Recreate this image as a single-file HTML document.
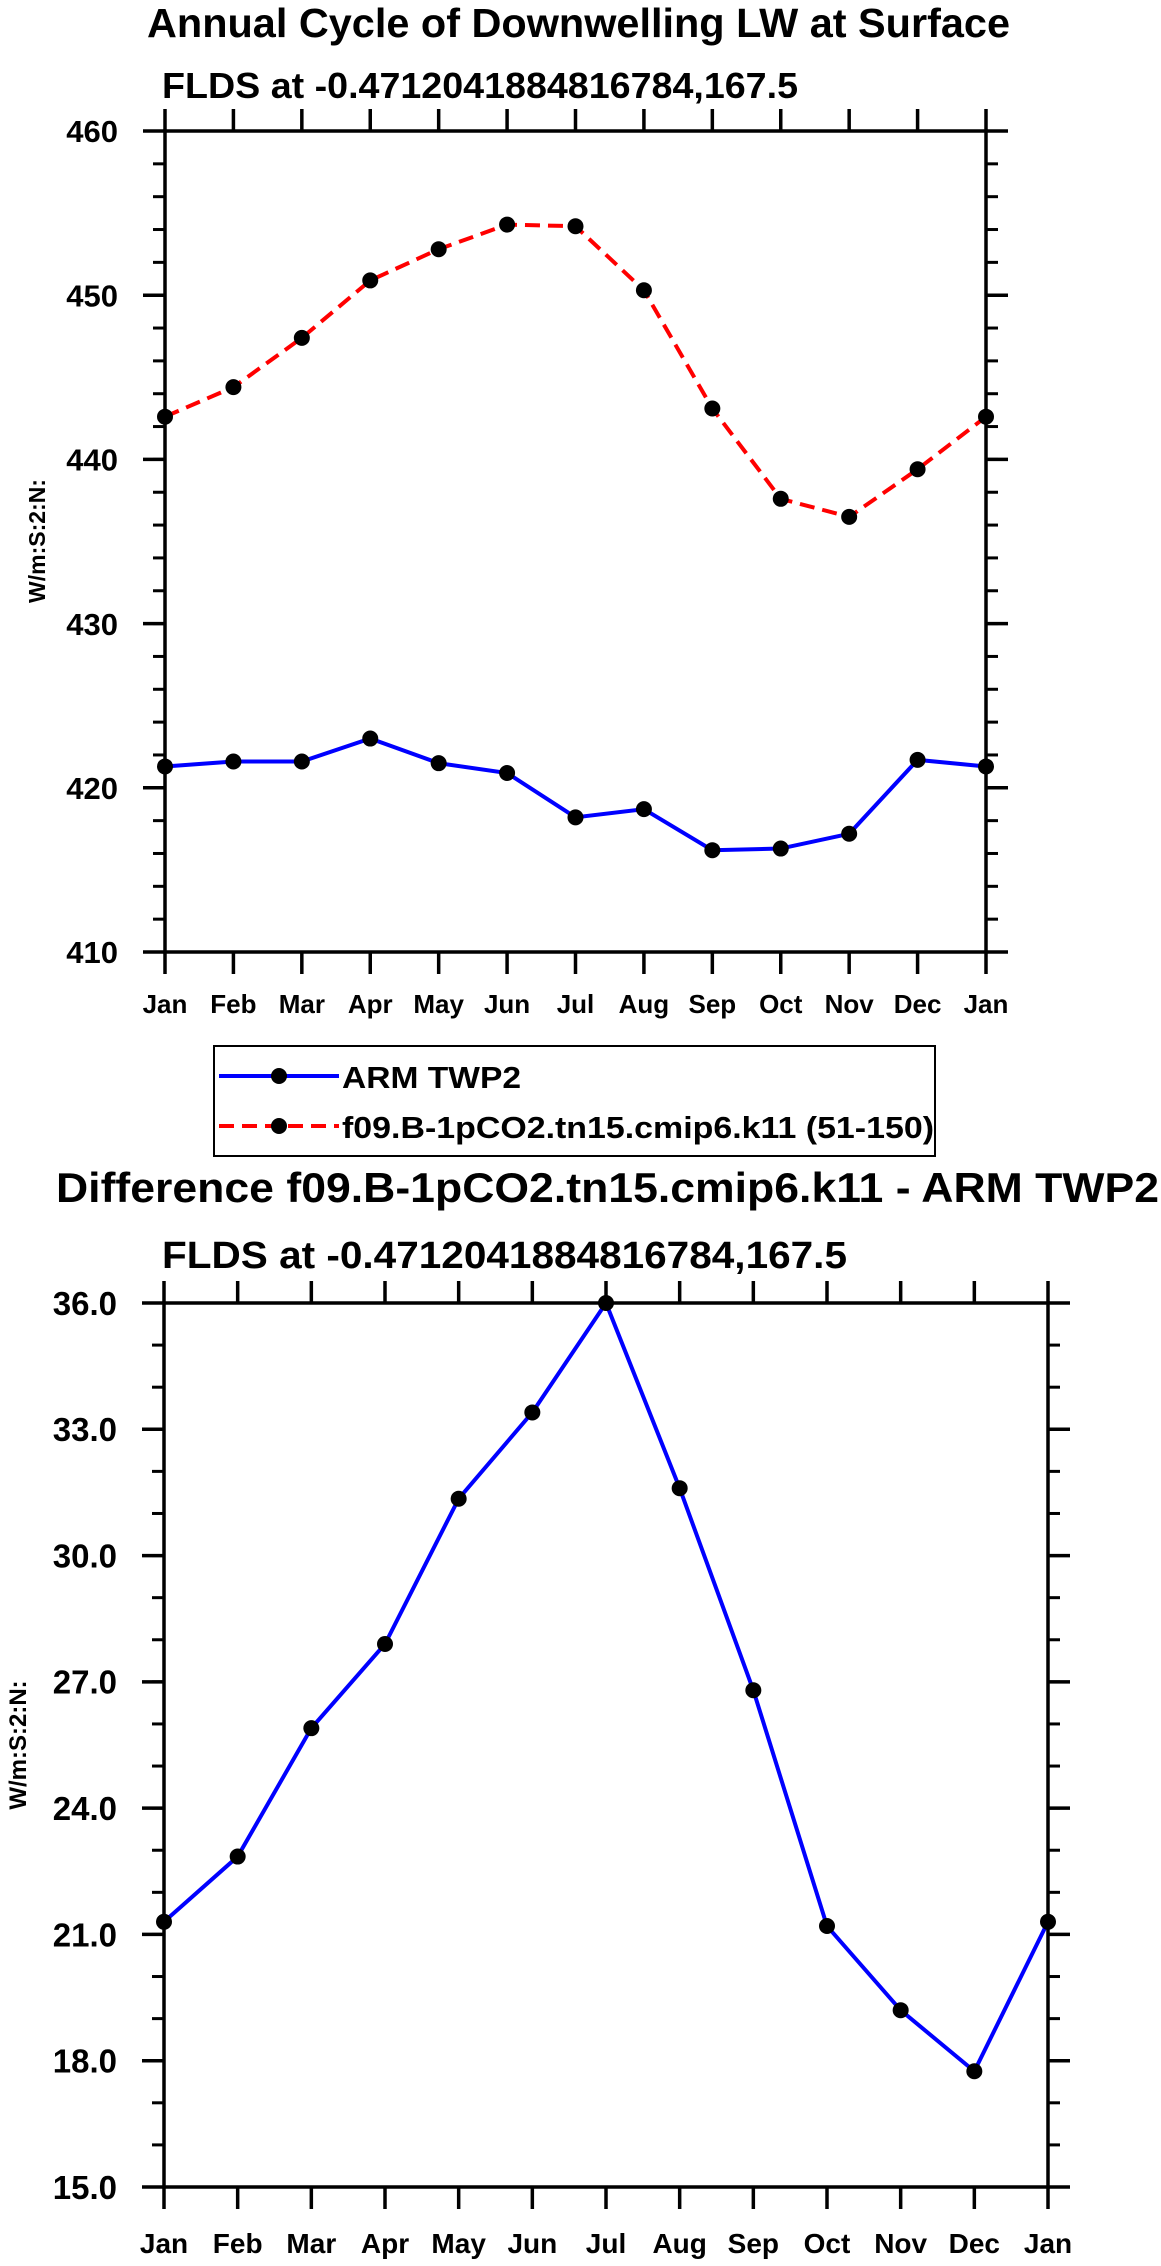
<!DOCTYPE html>
<html><head><meta charset="utf-8"><style>
html,body{margin:0;padding:0;background:#fff}
svg{display:block;font-family:"Liberation Sans",Arial,sans-serif;font-weight:bold}
</style></head><body>
<svg id="c" width="1161" height="2266" viewBox="0 0 1161 2266" xmlns="http://www.w3.org/2000/svg">
<text x="147" y="37" font-size="41" textLength="863" lengthAdjust="spacingAndGlyphs">Annual Cycle of Downwelling LW at Surface</text>
<text x="162" y="98" font-size="36" textLength="636" lengthAdjust="spacingAndGlyphs">FLDS at -0.4712041884816784,167.5</text>
<text transform="translate(45,541) rotate(-90)" text-anchor="middle" font-size="23">W/m:S:2:N:</text>
<g id="top"></g>
<g>
<rect x="214" y="1046" width="721" height="110" fill="#fff" stroke="#000" stroke-width="2"/>
<g>
<line x1="219" y1="1076" x2="339" y2="1076" stroke="#0000ff" stroke-width="4"/>
<circle cx="279" cy="1076" r="8" fill="#000"/>
<text x="342" y="1088" font-size="31" textLength="179" lengthAdjust="spacingAndGlyphs">ARM TWP2</text></g>
<g>
<line x1="219" y1="1126" x2="339" y2="1126" stroke="#ff0000" stroke-width="4" stroke-dasharray="15,8"/>
<circle cx="279" cy="1126" r="8" fill="#000"/>
<text x="342" y="1138" font-size="31" textLength="592" lengthAdjust="spacingAndGlyphs">f09.B-1pCO2.tn15.cmip6.k11 (51-150)</text></g>
</g>
<text x="56" y="1202" font-size="42" textLength="1103" lengthAdjust="spacingAndGlyphs">Difference f09.B-1pCO2.tn15.cmip6.k11 - ARM TWP2</text>
<text x="162" y="1268" font-size="38" textLength="685" lengthAdjust="spacingAndGlyphs">FLDS at -0.4712041884816784,167.5</text>
<text transform="translate(26,1745) rotate(-90)" text-anchor="middle" font-size="24">W/m:S:2:N:</text>
<g id="bot"></g>
</svg>
<script>
const months = ["Jan","Feb","Mar","Apr","May","Jun","Jul","Aug","Sep","Oct","Nov","Dec","Jan"];
const armValues = [421.3,421.6,421.6,423.0,421.5,420.9,418.2,418.7,416.2,416.3,417.2,421.7,421.3];
const modelValues = [442.6,444.4,447.4,450.9,452.8,454.3,454.2,450.3,443.1,437.6,436.5,439.4,442.6];
const diffValues = [21.3,22.85,25.9,27.9,31.35,33.4,36.0,31.6,26.8,21.2,19.2,17.75,21.3];
const topTicks = ["410","420","430","440","450","460"];
const botTicks = ["15.0","18.0","21.0","24.0","27.0","30.0","33.0","36.0"];
const NS="http://www.w3.org/2000/svg";
function mk(p,tag,a){const e=document.createElementNS(NS,tag);for(const k in a)e.setAttribute(k,a[k]);p.appendChild(e);return e;}
function plot(g,L,R,T,B,ymin,ymax,ticks,minorStep,series,prefix,yfs,xfs,xoff){
  const x=i=>L+(R-L)*i/(months.length-1);
  const y=v=>B-(B-T)*(v-ymin)/(ymax-ymin);
  for(let v=ymin;v<=ymax+1e-9;v+=minorStep){
    const yy=y(v);
    mk(g,'line',{x1:L-12,x2:L,y1:yy,y2:yy,stroke:'#000','stroke-width':3});
    mk(g,'line',{x1:R,x2:R+12,y1:yy,y2:yy,stroke:'#000','stroke-width':3});
  }
  ticks.forEach(t=>{
    const yy=y(parseFloat(t));
    mk(g,'line',{x1:L-22,x2:L,y1:yy,y2:yy,stroke:'#000','stroke-width':3.5});
    mk(g,'line',{x1:R,x2:R+22,y1:yy,y2:yy,stroke:'#000','stroke-width':3.5});
    const tx=mk(g,'text',{x:L-47,y:yy+yfs*0.36,'text-anchor':'end','font-size':yfs});
    tx.textContent=t;
    
    
  });
  months.forEach((m,i)=>{
    const xx=x(i);
    mk(g,'line',{x1:xx,x2:xx,y1:B,y2:B+22,stroke:'#000','stroke-width':3.5});
    mk(g,'line',{x1:xx,x2:xx,y1:T-22,y2:T,stroke:'#000','stroke-width':3.5});
    const tx=mk(g,'text',{x:xx,y:B+xoff,'text-anchor':'middle','font-size':xfs});
    tx.textContent=m;
    
    
  });
  const fr=mk(g,'rect',{x:L,y:T,width:R-L,height:B-T,fill:'none',stroke:'#000','stroke-width':3.5});
  
  
  series.forEach(s=>{
    const pts=s.vals.map((v,i)=>x(i)+','+y(v)).join(' ');
    const a={points:pts,fill:'none',stroke:s.color,'stroke-width':4};
    if(s.dash)a['stroke-dasharray']='15,8';
    const pl=mk(g,'polyline',a);
    
    
    s.vals.forEach((v,i)=>{
      const c=mk(g,'circle',{cx:x(i),cy:y(v),r:8,fill:'#000'});
      
      
    });
  });
}
plot(document.getElementById('top'),165,986,131,952,410,460,topTicks,2,
  [{vals:modelValues,color:'#ff0000',dash:true,name:'model'},{vals:armValues,color:'#0000ff',dash:false,name:'arm'}],'top',31,26,61);
plot(document.getElementById('bot'),164,1048,1303,2187,15,36,botTicks,1,
  [{vals:diffValues,color:'#0000ff',dash:false,name:'difference'}],'bottom',33,28,66);
</script>
</body></html>
